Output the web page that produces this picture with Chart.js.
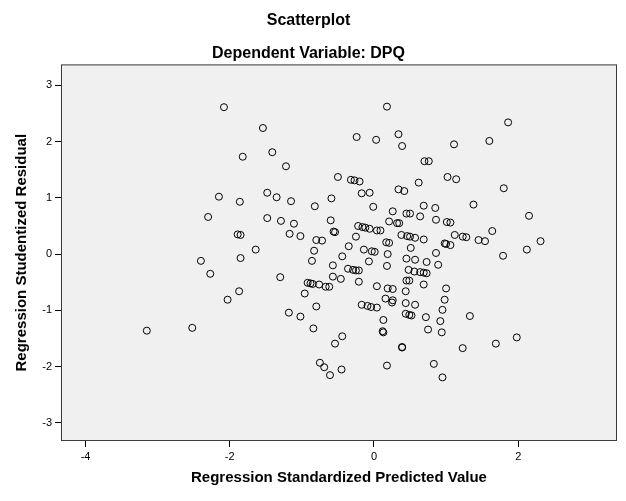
<!DOCTYPE html>
<html>
<head>
<meta charset="utf-8">
<script src="https://cdn.jsdelivr.net/npm/chart.js@4.4.1/dist/chart.umd.min.js"></script>
<style>
  html, body { margin: 0; padding: 0; background: #fff; }
  #wrap { width: 626px; height: 501px; }
</style>
</head>
<body>
<div id="wrap"><canvas id="scatter"></canvas></div>
<script>
// Regression Standardized Predicted Value (x) and Studentized Residual (y)
const predicted = [
  -2.08, -1.54, -1.82, -1.41, -1.22, -0.50, 0.18, -0.24, 0.03, 0.34,
  0.39, 1.11, 0.70, 0.76, -0.32, -0.27, -0.20, 0.34, 0.42, 0.62,
  1.02, 1.14, -0.17, -0.06, 1.86, 1.60, 1.80, -2.15, -1.86, -1.48,
  -1.35, -1.15, -0.82, -0.59, -2.30, -1.48, -1.29, -1.11, -0.60, -1.89,
  -1.85, -1.17, -1.02, -0.56, -0.54, -0.80, -0.72, -1.64, -0.83, -2.40,
  -1.85, -0.86, -0.44, -0.57, -2.27, -1.30, -0.57, -0.46, -0.92, -0.88,
  -0.85, -0.76, -0.67, -0.62, -1.87, -0.96, -2.03, -0.80, -1.18, -1.02,
  -0.01, 0.26, 0.69, 0.85, 1.38, 0.45, 0.50, 0.64, 0.86, 1.01,
  1.06, 0.21, 0.32, 0.35, -0.22, -0.16, -0.12, -0.06, 0.04, 0.09,
  -0.25, 0.38, 0.46, 0.50, 0.57, 0.69, 1.12, 1.23, 1.28, 1.45,
  0.17, 0.21, 0.98, 1.00, 1.06, -0.35, 0.51, -0.14, -0.03, 0.01,
  0.19, 0.86, -0.07, 0.45, 0.57, 0.73, 0.18, 0.89, -0.36, -0.29,
  -0.25, -0.21, 0.48, 0.56, 0.64, 0.69, 0.73, -0.21, 0.45, 0.49,
  0.04, 0.69, 0.19, 0.26, 1.00, 0.44, 0.16, 0.26, 0.25, 0.98,
  0.44, 0.57, -0.17, -0.09, -0.04, 0.04, 0.95, 0.44, 0.49, 0.52,
  0.13, 0.72, 1.33, 0.92, -0.44, 0.12, 0.13, 0.75, 0.94, 0.39,
  0.39, 1.23, -0.45, 0.18, 0.83, 0.95, -0.84, -0.54, -0.75, -0.69,
  -0.61, -3.15, -2.52, 2.15, 1.64, 1.54, 2.31, 2.12, 1.79, 1.69,
  1.98
];
const residual = [
  2.61, 2.24, 1.73, 1.81, 1.56, 1.37, 2.62, 2.08, 2.03, 2.13,
  1.92, 1.95, 1.65, 1.65, 1.32, 1.31, 1.29, 1.15, 1.12, 1.27,
  1.37, 1.33, 1.08, 1.09, 2.34, 2.01, 1.17, 1.02, 0.93, 1.09,
  1.01, 0.94, 0.85, 0.99, 0.66, 0.64, 0.59, 0.54, 0.60, 0.35,
  0.34, 0.36, 0.32, 0.40, 0.39, 0.25, 0.24, 0.08, 0.06, -0.12,
  -0.07, -0.12, -0.04, -0.20, -0.35, -0.41, -0.40, -0.44, -0.51, -0.52,
  -0.53, -0.54, -0.58, -0.58, -0.66, -0.70, -0.81, -0.93, -1.04, -1.11,
  0.84, 0.76, 0.86, 0.82, 0.88, 0.72, 0.72, 0.67, 0.61, 0.57,
  0.56, 0.58, 0.55, 0.55, 0.50, 0.48, 0.47, 0.45, 0.42, 0.42,
  0.31, 0.34, 0.32, 0.31, 0.29, 0.26, 0.34, 0.31, 0.30, 0.25,
  0.21, 0.20, 0.19, 0.18, 0.16, 0.14, 0.11, 0.08, 0.05, 0.04,
  0.00, 0.02, -0.13, -0.08, -0.10, -0.14, -0.21, -0.19, -0.26, -0.28,
  -0.29, -0.29, -0.28, -0.31, -0.32, -0.33, -0.34, -0.49, -0.47, -0.47,
  -0.57, -0.54, -0.61, -0.62, -0.61, -0.66, -0.79, -0.82, -0.86, -0.81,
  -0.87, -0.90, -0.90, -0.92, -0.94, -0.95, -0.99, -1.06, -1.08, -1.09,
  -1.17, -1.12, -1.10, -1.19, -1.46, -1.37, -1.39, -1.34, -1.39, -1.65,
  -1.66, -1.67, -2.05, -1.98, -1.95, -2.19, -1.32, -1.59, -1.93, -2.01,
  -2.15, -1.36, -1.31, 0.68, 0.41, 0.23, 0.23, 0.08, -0.03, -1.59,
  -1.48
];
const xTickValues = [-4, -2, 0, 2];
const yTickValues = [3, 2, 1, 0, -1, -2, -3];

const points = predicted.map((x, i) => ({ x: x, y: residual[i] }));

// grey plot background and frame round the chart area
const plotFrame = {
  id: 'plotFrame',
  beforeDatasetsDraw(chart) {
    const { ctx, chartArea: a } = chart;
    ctx.save();
    ctx.fillStyle = '#f0f0f0';
    ctx.fillRect(a.left, a.top, a.width, a.height);
    ctx.strokeStyle = '#3c3c3c';
    ctx.lineWidth = 1;
    ctx.strokeRect(a.left + 0.5, a.top + 0.5, a.width - 1, a.height - 1);
    ctx.restore();
  }
};

const tickFont = { family: 'Arial, "Liberation Sans", sans-serif', size: 11 };
const boldFont = (size) => ({ family: 'Arial, "Liberation Sans", sans-serif', size: size, weight: 'bold' });

new Chart(document.getElementById('scatter').getContext('2d'), {
  type: 'scatter',
  data: {
    datasets: [{
      data: points,
      pointStyle: 'circle',
      pointRadius: 3.5,
      pointHoverRadius: 3.5,
      pointBorderWidth: 1,
      borderColor: '#000',
      backgroundColor: 'rgba(0,0,0,0)'
    }]
  },
  plugins: [plotFrame],
  options: {
    responsive: true,
    maintainAspectRatio: false,
    animation: false,
    devicePixelRatio: 1,
    layout: { padding: { right: 9 } },
    plugins: {
      legend: { display: false },
      tooltip: { enabled: false },
      title: {
        display: true,
        text: 'Scatterplot',
        color: '#000',
        font: boldFont(16),
        padding: { top: 11, bottom: 6 }
      },
      subtitle: {
        display: true,
        text: 'Dependent Variable: DPQ',
        color: '#000',
        font: boldFont(16),
        padding: { top: 8, bottom: 1 }
      }
    },
    scales: {
      x: {
        type: 'linear',
        min: -4.34,
        max: 3.37,
        afterBuildTicks: (s) => { s.ticks = xTickValues.map(v => ({ value: v })); },
        afterFit: (s) => { s.height = 60; },
        grid: { drawOnChartArea: false, drawTicks: true, tickLength: 6, color: '#000' },
        border: { display: false },
        ticks: { color: '#000', font: tickFont, padding: 3 },
        title: {
          display: true,
          text: 'Regression Standardized Predicted Value',
          color: '#000',
          font: boldFont(15),
          padding: { top: 0, bottom: 14 }
        }
      },
      y: {
        type: 'linear',
        min: -3.32,
        max: 3.37,
        afterBuildTicks: (s) => { s.ticks = yTickValues.map(v => ({ value: v })); },
        afterFit: (s) => { s.width = 61; },
        grid: { drawOnChartArea: false, drawTicks: true, tickLength: 6, color: '#000' },
        border: { display: false },
        ticks: { color: '#000', font: tickFont, padding: 3 },
        title: {
          display: true,
          text: 'Regression Studentized Residual',
          color: '#000',
          font: boldFont(15),
          padding: { top: 13, bottom: 0 }
        }
      }
    }
  }
});
</script>
</body>
</html>
